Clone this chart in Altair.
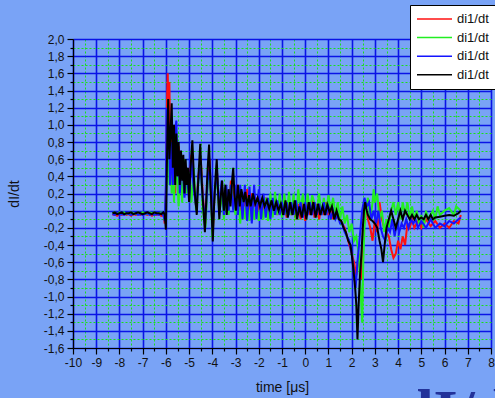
import altair as alt
import pandas as pd

series_names = ["di1/dt 1", "di1/dt 2", "di1/dt 3", "di1/dt 4"]
series_colors = ["#ff1010", "#22ee22", "#1414ff", "#000000"]

baseline_t = [-8.3, -8.2, -8.1, -8.0, -7.9, -7.8, -7.7, -7.6, -7.5, -7.4, -7.3, -7.2,
              -7.1, -7.0, -6.9, -6.8, -6.7, -6.6, -6.5, -6.4, -6.3, -6.2, -6.1]

red_base = [-0.05, -0.04, -0.06, -0.04, -0.05, -0.03, -0.05, -0.04, -0.06, -0.04, -0.05, -0.04,
            -0.05, -0.03, -0.04, -0.05, -0.04, -0.06, -0.04, -0.05, -0.04, -0.06, -0.05]
green_base = [-0.03, -0.02, -0.04, -0.02, -0.03, -0.02, -0.04, -0.03, -0.02, -0.03, -0.04, -0.02,
              -0.03, -0.02, -0.03, -0.04, -0.02, -0.03, -0.02, -0.04, -0.03, -0.02, -0.04]
blue_base = [-0.04, -0.05, -0.03, -0.05, -0.04, -0.05, -0.03, -0.04, -0.05, -0.04, -0.03, -0.05,
             -0.04, -0.05, -0.04, -0.03, -0.05, -0.04, -0.05, -0.04, -0.05, -0.03, -0.06]
black_base = [-0.03, -0.02, -0.04, -0.03, -0.02, -0.04, -0.03, -0.03, -0.02, -0.04, -0.03, -0.02,
              -0.03, -0.04, -0.03, -0.02, -0.03, -0.04, -0.02, -0.03, -0.03, -0.04, -0.02]

red_wave = [
    (-6.05, -0.15), (-6.0, 0.2), (-5.95, 1.3), (-5.92, 1.6), (-5.88, 1.0), (-5.85, 1.5),
    (-5.8, 0.6), (-5.75, 1.05), (-5.7, 0.35), (-5.65, 0.85), (-5.6, 0.2), (-5.55, 0.8),
    (-5.5, 0.4), (-5.45, 0.75), (-5.4, 0.3), (-5.35, 0.6), (-5.3, 0.25), (-5.25, 0.55),
    (-5.2, 0.3), (-5.1, 0.5), (-5.0, 0.2), (-4.9, 0.65), (-4.8, 0.3), (-4.7, 0.05),
    (-4.6, 0.4), (-4.5, 0.6), (-4.4, 0.15), (-4.3, -0.15), (-4.2, 0.4), (-4.12, 0.6),
    (-4.05, 0.1), (-3.98, -0.25), (-3.9, 0.2), (-3.8, 0.45), (-3.7, 0.0), (-3.6, 0.3),
    (-3.5, 0.05), (-3.4, 0.25), (-3.3, 0.0), (-3.2, 0.35), (-3.1, 0.2), (-3.0, 0.05),
    (-2.9, 0.3), (-2.8, 0.0), (-2.7, 0.2), (-2.6, 0.05), (-2.5, 0.25), (-2.4, 0.0),
    (-2.3, 0.2), (-2.2, 0.05), (-2.1, 0.15), (-2.0, 0.0), (-1.9, 0.12), (-1.8, 0.0),
    (-1.7, 0.15), (-1.6, 0.02), (-1.5, 0.12), (-1.4, -0.02), (-1.3, 0.1), (-1.2, -0.05),
    (-1.1, 0.1), (-1.0, -0.05), (-0.9, 0.08), (-0.8, -0.08), (-0.7, 0.1), (-0.6, -0.05),
    (-0.5, 0.1), (-0.4, -0.1), (-0.3, 0.08), (-0.2, -0.1), (-0.1, 0.1), (0.0, -0.12),
    (0.1, 0.08), (0.2, -0.05), (0.3, 0.12), (0.4, -0.08), (0.5, 0.08), (0.6, -0.1),
    (0.7, 0.05), (0.8, -0.05), (0.9, 0.1), (1.0, -0.05), (1.1, 0.05), (1.2, -0.1),
    (1.3, 0.0), (1.4, -0.08), (1.5, -0.1), (1.7, -0.2), (1.9, -0.4), (2.1, -0.6),
    (2.2, -0.75), (2.3, -0.5), (2.4, -0.8), (2.5, -0.3), (2.6, 0.05), (2.7, -0.1),
    (2.8, -0.2), (2.9, -0.35), (3.0, -0.1), (3.1, -0.25), (3.2, 0.1), (3.3, -0.1),
    (3.4, -0.2), (3.5, -0.25), (3.6, -0.3), (3.7, -0.45), (3.8, -0.55), (3.9, -0.5),
    (4.0, -0.35), (4.1, -0.45), (4.2, -0.3), (4.3, -0.4), (4.4, -0.15), (4.5, -0.2),
    (4.6, -0.1), (4.7, -0.2), (4.8, -0.15), (4.9, -0.1), (5.0, -0.2), (5.2, -0.1),
    (5.4, -0.18), (5.6, -0.12), (5.8, -0.2), (6.0, -0.15), (6.2, -0.2), (6.4, -0.12),
    (6.6, -0.15), (6.7, -0.05),
]

green_wave = [
    (-6.05, -0.1), (-6.0, 0.1), (-5.95, 0.6), (-5.9, 1.0), (-5.85, 0.3), (-5.8, 0.8),
    (-5.75, 0.2), (-5.7, 0.7), (-5.65, 0.1), (-5.6, 0.6), (-5.5, 0.3), (-5.45, 0.05),
    (-5.4, 0.55), (-5.3, 0.1), (-5.2, 0.6), (-5.1, 0.2), (-5.0, 0.45), (-4.9, 0.1),
    (-4.8, 0.5), (-4.7, 0.0), (-4.6, 0.35), (-4.5, 0.55), (-4.4, 0.0), (-4.3, -0.2),
    (-4.2, 0.3), (-4.1, 0.45), (-4.0, -0.3), (-3.9, 0.2), (-3.8, 0.4), (-3.7, -0.05),
    (-3.6, 0.2), (-3.5, -0.1), (-3.4, 0.25), (-3.3, -0.05), (-3.2, 0.3), (-3.1, 0.1),
    (-3.0, -0.05), (-2.9, 0.2), (-2.8, -0.15), (-2.7, 0.15), (-2.6, -0.1), (-2.5, 0.15),
    (-2.4, -0.12), (-2.3, 0.15), (-2.2, -0.1), (-2.1, 0.1), (-2.0, -0.12), (-1.9, 0.1),
    (-1.8, -0.1), (-1.7, 0.15), (-1.6, -0.12), (-1.5, 0.2), (-1.4, -0.08), (-1.3, 0.22),
    (-1.2, -0.05), (-1.1, 0.2), (-1.0, -0.08), (-0.9, 0.2), (-0.8, -0.05), (-0.7, 0.22),
    (-0.6, -0.05), (-0.5, 0.2), (-0.4, -0.1), (-0.3, 0.25), (-0.2, 0.0), (-0.1, 0.2),
    (0.0, -0.05), (0.1, 0.2), (0.2, 0.0), (0.3, 0.18), (0.5, 0.0), (0.6, 0.2),
    (0.7, -0.05), (0.8, 0.15), (0.9, -0.02), (1.0, 0.18), (1.1, 0.0), (1.2, 0.15),
    (1.3, -0.05), (1.4, 0.1), (1.5, -0.1), (1.6, 0.05), (1.7, -0.15), (1.8, -0.05),
    (1.9, -0.25), (2.0, -0.15), (2.1, -0.35), (2.2, -0.3), (2.3, -0.5), (2.38, -0.9),
    (2.45, -1.3), (2.5, -0.6), (2.55, -0.2), (2.6, 0.0), (2.7, 0.15), (2.8, -0.1),
    (2.9, 0.1), (2.95, 0.25), (3.0, 0.1), (3.1, 0.2), (3.2, -0.1), (3.3, 0.0),
    (3.4, -0.25), (3.5, -0.1), (3.6, -0.2), (3.7, 0.0), (3.8, 0.1), (3.9, -0.05),
    (4.0, 0.1), (4.1, -0.1), (4.2, 0.1), (4.3, -0.05), (4.4, 0.1), (4.5, -0.1),
    (4.6, 0.05), (4.7, -0.1), (4.8, 0.0), (4.9, -0.15), (5.0, -0.05), (5.1, -0.2),
    (5.2, 0.0), (5.3, -0.1), (5.4, -0.05), (5.5, 0.0), (5.6, -0.1), (5.7, 0.05),
    (5.8, -0.05), (6.0, 0.0), (6.2, 0.03), (6.4, -0.05), (6.5, 0.05), (6.7, 0.0),
]

blue_wave = [
    (-6.05, -0.12), (-6.0, 0.3), (-5.97, 1.2), (-5.93, 0.6), (-5.88, 1.0), (-5.82, 0.3),
    (-5.75, 0.8), (-5.7, 0.3), (-5.62, 0.9), (-5.55, 1.05), (-5.5, 0.4), (-5.45, 0.7),
    (-5.4, 0.2), (-5.3, 0.6), (-5.2, 0.15), (-5.1, 0.5), (-5.0, 0.1), (-4.9, 0.6),
    (-4.8, 0.25), (-4.7, 0.05), (-4.6, 0.35), (-4.5, 0.5), (-4.4, 0.1), (-4.3, -0.1),
    (-4.2, 0.35), (-4.1, 0.5), (-4.0, -0.2), (-3.9, 0.2), (-3.8, 0.45), (-3.7, 0.05),
    (-3.6, 0.35), (-3.5, -0.05), (-3.4, 0.3), (-3.3, 0.0), (-3.2, 0.3), (-3.1, 0.0),
    (-3.0, 0.3), (-2.9, -0.05), (-2.8, 0.3), (-2.7, -0.1), (-2.6, 0.3), (-2.5, -0.12),
    (-2.4, 0.28), (-2.3, -0.15), (-2.2, 0.3), (-2.1, -0.1), (-2.0, 0.25), (-1.9, -0.1),
    (-1.8, 0.2), (-1.7, -0.08), (-1.6, 0.15), (-1.5, -0.1), (-1.4, 0.15), (-1.3, -0.05),
    (-1.2, 0.12), (-1.1, -0.05), (-1.0, 0.1), (-0.9, -0.05), (-0.8, 0.1), (-0.7, -0.05),
    (-0.6, 0.1), (-0.5, -0.05), (-0.4, 0.12), (-0.3, -0.05), (-0.2, 0.1), (-0.1, -0.08),
    (0.0, 0.1), (0.1, -0.05), (0.2, 0.1), (0.3, -0.05), (0.4, 0.1), (0.5, -0.05),
    (0.6, 0.08), (0.7, -0.05), (0.8, 0.1), (0.9, -0.05), (1.0, 0.05), (1.1, -0.1),
    (1.2, 0.0), (1.3, -0.1), (1.4, -0.05), (1.5, -0.15), (1.6, -0.15), (1.7, -0.25),
    (1.8, -0.3), (1.9, -0.35), (2.0, -0.5), (2.1, -0.7), (2.17, -0.9), (2.25, -0.6),
    (2.35, -0.3), (2.45, 0.0), (2.55, 0.15), (2.65, 0.05), (2.75, 0.1), (2.85, -0.1),
    (2.95, 0.0), (3.05, -0.15), (3.15, 0.0), (3.25, -0.2), (3.35, -0.3), (3.45, -0.35),
    (3.55, -0.2), (3.65, -0.25), (3.75, -0.1), (3.85, -0.3), (3.95, -0.15), (4.05, -0.25),
    (4.15, -0.15), (4.25, -0.2), (4.35, -0.1), (4.45, -0.2), (4.55, -0.1), (4.65, -0.15),
    (4.75, -0.1), (4.85, -0.2), (5.0, -0.12), (5.2, -0.2), (5.4, -0.1), (5.6, -0.2),
    (5.8, -0.15), (6.0, -0.18), (6.2, -0.12), (6.4, -0.15), (6.6, -0.1), (6.7, -0.08),
]

black_wave = [
    (-6.05, -0.05), (-6.0, -0.22), (-5.97, 0.3), (-5.93, 1.0), (-5.9, 1.3), (-5.85, 0.6),
    (-5.8, 0.9), (-5.75, 1.25), (-5.7, 0.5), (-5.65, 1.0), (-5.6, 0.3), (-5.55, 0.9),
    (-5.5, 0.4), (-5.45, 0.8), (-5.4, 0.3), (-5.35, 0.7), (-5.3, 0.35), (-5.25, 0.65),
    (-5.2, 0.2), (-5.15, 0.6), (-5.1, 0.3), (-5.05, 0.5), (-5.0, 0.1), (-4.95, 0.45),
    (-4.86, 0.82), (-4.78, 0.3), (-4.72, 0.1), (-4.67, -0.05), (-4.6, 0.4), (-4.52, 0.78),
    (-4.45, 0.3), (-4.38, 0.0), (-4.32, -0.25), (-4.25, 0.2), (-4.2, 0.5), (-4.14, 0.77),
    (-4.08, 0.3), (-4.03, 0.0), (-3.98, -0.36), (-3.92, 0.1), (-3.86, 0.4), (-3.81, 0.6),
    (-3.75, 0.2), (-3.7, -0.1), (-3.64, 0.15), (-3.58, 0.35), (-3.5, 0.0), (-3.44, 0.3),
    (-3.38, -0.05), (-3.3, 0.25), (-3.22, 0.05), (-3.15, 0.35), (-3.1, 0.5), (-3.05, 0.2),
    (-2.98, 0.0), (-2.9, 0.3), (-2.82, 0.05), (-2.75, 0.25), (-2.65, 0.1), (-2.58, 0.22),
    (-2.5, 0.05), (-2.42, 0.18), (-2.35, 0.05), (-2.25, 0.2), (-2.15, 0.08), (-2.05, 0.15),
    (-1.95, 0.05), (-1.85, 0.15), (-1.75, 0.05), (-1.65, 0.12), (-1.55, 0.02), (-1.45, 0.12),
    (-1.35, 0.0), (-1.25, 0.1), (-1.15, 0.0), (-1.05, 0.08), (-0.95, -0.05), (-0.85, 0.12),
    (-0.75, -0.08), (-0.65, 0.1), (-0.55, -0.05), (-0.45, 0.12), (-0.35, -0.1), (-0.25, 0.05),
    (-0.15, -0.08), (-0.05, 0.08), (0.05, -0.1), (0.15, 0.1), (0.25, -0.05), (0.35, 0.1),
    (0.45, -0.08), (0.55, 0.08), (0.65, -0.05), (0.75, 0.05), (0.85, -0.05), (0.95, 0.07),
    (1.05, -0.02), (1.15, 0.05), (1.25, -0.1), (1.35, 0.0), (1.45, -0.1), (1.55, -0.12),
    (1.65, -0.2), (1.75, -0.25), (1.85, -0.35), (1.95, -0.4), (2.0, -0.5), (2.08, -0.7),
    (2.15, -0.9), (2.2, -1.1), (2.25, -1.5), (2.3, -1.1), (2.35, -0.8), (2.42, -0.5),
    (2.48, -0.2), (2.53, 0.0), (2.58, 0.1), (2.65, 0.0), (2.7, -0.05), (2.8, -0.1),
    (2.9, -0.12), (3.0, -0.15), (3.1, -0.2), (3.2, -0.35), (3.28, -0.45), (3.35, -0.6),
    (3.42, -0.4), (3.5, -0.2), (3.6, -0.1), (3.7, 0.0), (3.8, -0.1), (3.9, -0.2),
    (4.0, -0.1), (4.1, 0.0), (4.2, -0.1), (4.3, 0.0), (4.4, -0.05), (4.5, -0.1),
    (4.6, -0.05), (4.7, -0.1), (4.8, -0.05), (4.9, -0.1), (5.0, -0.08), (5.1, -0.1),
    (5.2, -0.05), (5.3, -0.1), (5.4, -0.05), (5.5, -0.1), (5.6, -0.08), (5.8, -0.07),
    (6.0, -0.06), (6.2, -0.05), (6.4, -0.06), (6.6, -0.03), (6.7, 0.0),
]

x_ticks = [-10, -9.5, -9, -8.5, -8, -7.5, -7, -6.5, -6, -5.5, -5, -4.5, -4, -3.5, -3, -2.5,
           -2, -1.5, -1, -0.5, 0, 0.5, 1, 1.5, 2, 2.5, 3, 3.5, 4, 4.5, 5, 5.5, 6, 6.5, 7, 7.5, 8]
y_ticks = [-1.6, -1.5, -1.4, -1.3, -1.2, -1.1, -1.0, -0.9, -0.8, -0.7, -0.6, -0.5, -0.4,
           -0.3, -0.2, -0.1, 0.0, 0.1, 0.2, 0.3, 0.4, 0.5, 0.6, 0.7, 0.8, 0.9, 1.0, 1.1,
           1.2, 1.3, 1.4, 1.5, 1.6, 1.7, 1.8, 1.9, 2.0]

rows = []
for name, base, wave in zip(
    series_names,
    [red_base, green_base, blue_base, black_base],
    [red_wave, green_wave, blue_wave, black_wave],
):
    pts = list(zip(baseline_t, base)) + wave
    for i, (t, v) in enumerate(pts):
        rows.append({"series": name, "t": t, "v": v, "i": i})
df = pd.DataFrame(rows)

x_major = "datum.value % 1 === 0"
y_major = "abs(round(datum.value * 10)) % 2 === 0"

x_axis = alt.Axis(
    values=x_ticks,
    title="time [μs]",
    labelExpr=f"{x_major} ? '' + datum.value : ''",
    grid=True,
    gridColor={"condition": {"test": x_major, "value": "#0a14e6"}, "value": "#18e018"},
    gridDash={"condition": {"test": x_major, "value": []}, "value": [2, 2]},
    gridWidth={"condition": {"test": x_major, "value": 1.6}, "value": 1},
    gridOpacity=1,
    tickSize={"condition": {"test": x_major, "value": 6}, "value": 3},
    tickColor="black", domainColor="black", domainWidth=1.2, tickWidth=1.2,
    labelFont="Liberation Sans", labelFontSize=12, labelColor="#111111", labelPadding=3,
    labelFlush=False, labelOverlap=False,
    titleFont="Liberation Sans", titleFontSize=14, titleFontWeight="normal",
    titleColor="#111111", titlePadding=12,
)
y_axis = alt.Axis(
    values=y_ticks,
    title="dI/dt",
    labelExpr=f"{y_major} ? (datum.value < -0.01 ? '-' : '') + replace(format(abs(datum.value), '.1f'), '.', ',') : ''",
    grid=True,
    gridColor={"condition": {"test": y_major, "value": "#0a14e6"}, "value": "#18e018"},
    gridDash={"condition": {"test": y_major, "value": []}, "value": [2, 2]},
    gridWidth={"condition": {"test": y_major, "value": 1.6}, "value": 1},
    gridOpacity=1,
    tickSize={"condition": {"test": y_major, "value": 6}, "value": 3},
    tickColor="black", domainColor="black", domainWidth=1.2, tickWidth=1.2,
    labelFont="Liberation Sans", labelFontSize=12, labelColor="#111111", labelPadding=3,
    labelFlush=False, labelOverlap=False,
    titleFont="Liberation Sans", titleFontSize=14, titleFontWeight="normal",
    titleColor="#111111", titlePadding=22,
)

lines = alt.Chart(df).mark_line(strokeWidth=2, strokeJoin="miter").encode(
    x=alt.X("t:Q", scale=alt.Scale(domain=[-10, 8], nice=False, zero=False), axis=x_axis),
    y=alt.Y("v:Q", scale=alt.Scale(domain=[-1.6, 2.0], nice=False, zero=False), axis=y_axis),
    color=alt.Color(
        "series:N",
        scale=alt.Scale(domain=series_names, range=series_colors),
        legend=alt.Legend(
            title=None, orient="none", legendX=337, legendY=-34,
            symbolType="stroke", symbolSize=1225, symbolStrokeWidth=1.5,
            clipHeight=16, rowPadding=2.6, padding=6, labelOffset=4,
            labelExpr="'di1/dt'", labelFont="Liberation Sans", labelFontSize=13,
            labelColor="#111111", fillColor="white", strokeColor="black",
        ),
    ),
    order="i:Q",
)

banner = alt.Chart(pd.DataFrame({"txt": ["dI/dt"]})).mark_text(
    font="Liberation Serif", fontSize=62, fontWeight="bold", color="#22329a",
    align="left", baseline="alphabetic",
).encode(text="txt:N", x=alt.value(326), y=alt.value(393))

chart = alt.layer(lines, banner).properties(
    width=418, height=309,
    autosize=alt.AutoSizeParams(type="none"),
    padding={"left": 73, "top": 39, "right": 4, "bottom": 50},
    background="#79a3f6",
).configure_view(stroke=None)

chart.save("out.html", embed_options={"renderer": "svg", "actions": False})
